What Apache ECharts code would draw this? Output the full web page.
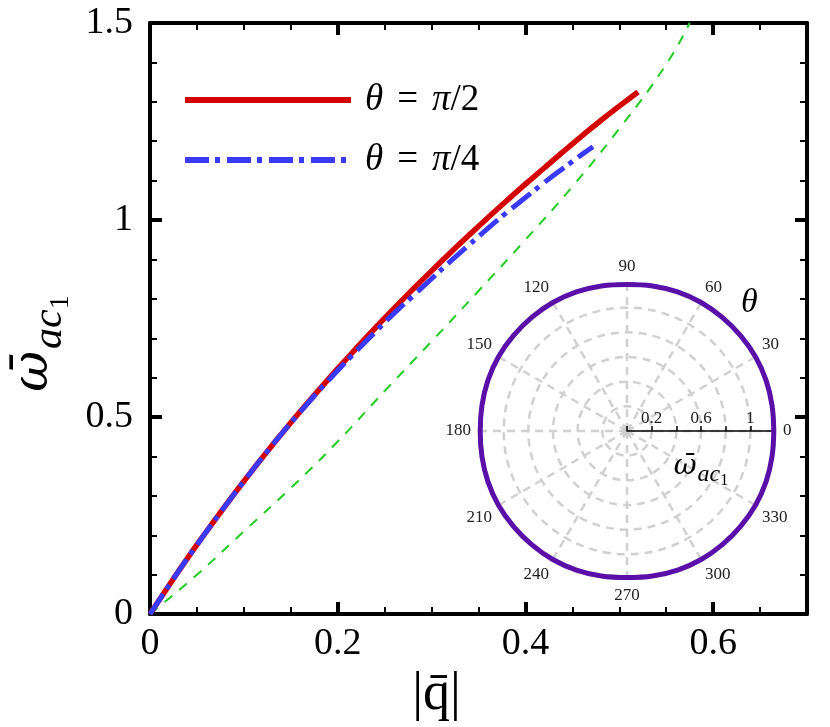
<!DOCTYPE html>
<html>
<head>
<meta charset="utf-8">
<script src="https://cdn.jsdelivr.net/npm/echarts@6/dist/echarts.min.js"></script>
<style>
  html, body { margin: 0; padding: 0; background: #fff; }
  #chart { width: 830px; height: 727px; }
</style>
</head>
<body>
<div id="chart"></div>
<script>
var FONT = 'Liberation Serif';

// theta = pi/2, [|q|, omega]
var redCurve = [[0, 0], [0.02, 0.072], [0.04, 0.142], [0.06, 0.209], [0.08, 0.274], [0.1, 0.337],
    [0.12, 0.398], [0.14, 0.457], [0.16, 0.514], [0.18, 0.569], [0.2, 0.623], [0.22, 0.675],
    [0.24, 0.726], [0.26, 0.776], [0.28, 0.824], [0.3, 0.871], [0.32, 0.917], [0.34, 0.962],
    [0.36, 1.006], [0.38, 1.049], [0.4, 1.091], [0.42, 1.132], [0.44, 1.173], [0.46, 1.213],
    [0.48, 1.252], [0.5, 1.289], [0.52, 1.325]];
// theta = pi/4
var blueCurve = [[0, 0], [0.02, 0.072], [0.04, 0.142], [0.06, 0.209], [0.08, 0.274], [0.1, 0.337],
    [0.12, 0.398], [0.14, 0.457], [0.16, 0.513], [0.18, 0.567], [0.2, 0.618], [0.22, 0.668],
    [0.24, 0.716], [0.26, 0.763], [0.28, 0.807], [0.3, 0.851], [0.32, 0.895], [0.34, 0.937],
    [0.36, 0.979], [0.38, 1.019], [0.4, 1.057], [0.42, 1.095], [0.44, 1.131], [0.46, 1.166],
    [0.472, 1.186]];
// green dashed reference
var greenCurve = [[0, 0], [0.05, 0.1], [0.1, 0.21], [0.15, 0.32], [0.2, 0.438], [0.25, 0.566],
    [0.3, 0.692], [0.35, 0.82], [0.4, 0.95], [0.45, 1.085], [0.5, 1.232], [0.55, 1.395], [0.575, 1.5]];

// inset: angle (deg, every 10) and omega radius
var polarAngles = [0, 10, 20, 30, 40, 50, 60, 70, 80, 90, 100, 110, 120, 130, 140, 150, 160, 170,
    180, 190, 200, 210, 220, 230, 240, 250, 260, 270, 280, 290, 300, 310, 320, 330, 340, 350, 360];
var polarRadius = [1.19, 1.194, 1.2, 1.203, 1.202, 1.202, 1.203, 1.2, 1.194,
    1.188, 1.194, 1.2, 1.203, 1.202, 1.202, 1.203, 1.2, 1.194,
    1.19, 1.194, 1.2, 1.203, 1.202, 1.202, 1.203, 1.2, 1.194,
    1.188, 1.194, 1.2, 1.203, 1.202, 1.202, 1.203, 1.2, 1.194, 1.19];

var xMajorTicks = [0, 0.2, 0.4, 0.6];
var yMajorTicks = [0, 0.5, 1, 1.5];
var legendNames = ['θ = π/2', 'θ = π/4'];

var polarData = polarAngles.map(function (a, i) { return [polarRadius[i], a]; });

var e = echarts.init(document.getElementById('chart'));

function xAxisDef(pos, interval, major) {
    return {
        type: 'value', position: pos, min: 0, max: 0.7, interval: interval,
        axisLine: {show: major, onZero: false, lineStyle: {color: '#000', width: 4}},
        axisTick: {show: true, inside: true, length: major ? 12 : 7,
            lineStyle: {color: '#000', width: major ? 4 : 2}},
        axisLabel: {show: major && pos === 'bottom', margin: 11, fontFamily: FONT, fontSize: 38, color: '#000',
            formatter: function (v) { return xMajorTicks.indexOf(Math.round(v * 10) / 10) >= 0 ? String(v) : ''; }},
        splitLine: {show: false}
    };
}

function yAxisDef(pos) {
    return {
        type: 'value', position: pos, min: 0, max: 1.5, interval: 0.5,
        axisLine: {show: true, onZero: false, lineStyle: {color: '#000', width: 4}},
        axisTick: {show: true, inside: true, length: 12, lineStyle: {color: '#000', width: 4}},
        minorTick: {show: true, splitNumber: 5, length: 7, lineStyle: {color: '#000', width: 2}},
        axisLabel: {show: pos === 'left', margin: 17, fontFamily: FONT, fontSize: 38, color: '#000',
            formatter: function (v) { return yMajorTicks.indexOf(v) >= 0 ? String(v) : ''; }},
        splitLine: {show: false}
    };
}

var xs = [xAxisDef('bottom', 0.2, true), xAxisDef('bottom', 0.05, false),
    xAxisDef('top', 0.2, true), xAxisDef('top', 0.05, false)];
xs[0].name = '|q̄|';
xs[0].nameLocation = 'middle';
xs[0].nameGap = 18;
xs[0].nameTextStyle = {fontFamily: FONT, fontSize: 54, color: '#000', padding: [0, 84, 0, 0]};

var ys = [yAxisDef('left'), yAxisDef('right')];
ys[0].name = '{w|ω̄}{s|ac}{n|1}';
ys[0].nameLocation = 'middle';
ys[0].nameGap = 60;
ys[0].nameRotate = 90;
ys[0].nameTextStyle = {
    color: '#000',
    padding: [0, 50, 0, 0],
    rich: {
        w: {fontFamily: 'DejaVu Serif', fontStyle: 'italic', fontSize: 50, color: '#000'},
        s: {fontFamily: FONT, fontStyle: 'italic', fontSize: 42, color: '#000', verticalAlign: 'bottom', padding: [0, 0, -12, 2]},
        n: {fontFamily: FONT, fontSize: 28, color: '#000', verticalAlign: 'bottom', padding: [0, 0, -16, 0]}
    }
};

// inset grid: radius 1.2 -> 148px; the curve uses a second, invisible polar with the same scale
var pxPerUnit = 148 / 1.2;

e.setOption({
    animation: false,
    backgroundColor: '#fff',
    grid: {left: 150, right: 23, top: 23, bottom: 92, show: false},
    xAxis: xs,
    yAxis: ys,
    polar: [
        {center: [627, 431], radius: 148},
        {center: [627, 431], radius: pxPerUnit * 1.3}
    ],
    angleAxis: [{
        polarIndex: 0,
        type: 'value', min: 0, max: 360, interval: 30, startAngle: 0, clockwise: false,
        axisLine: {show: false},
        axisTick: {show: false},
        axisLabel: {margin: 8, fontFamily: FONT, fontSize: 17, color: '#222',
            formatter: function (v) { return v === 360 ? '' : String(v); }},
        splitLine: {show: true, lineStyle: {color: '#d0d0d0', width: 2.5, type: [8, 6]}}
    }, {
        polarIndex: 1, show: false,
        type: 'value', min: 0, max: 360, startAngle: 0, clockwise: false
    }],
    radiusAxis: [{
        polarIndex: 0,
        type: 'value', min: 0, max: 1.2, interval: 0.2,
        axisLine: {show: true, lineStyle: {color: '#000', width: 1.5}},
        axisTick: {show: true, inside: true, length: 5, lineStyle: {color: '#000', width: 1.5}},
        axisLabel: {margin: 4, fontFamily: FONT, fontSize: 17, color: '#222',
            formatter: function (v) {
                var r = Math.round(v * 10) / 10;
                return (r === 0.2 || r === 0.6 || r === 1) ? String(r) : '';
            }},
        splitLine: {show: true, lineStyle: {color: '#d0d0d0', width: 2.5, type: [8, 6]}},
        name: '{w|ω̄}{s|ac}{n|1}',
        nameLocation: 'middle',
        nameGap: 22,
        nameTextStyle: {
            color: '#000',
            rich: {
                w: {fontFamily: 'DejaVu Serif', fontStyle: 'italic', fontSize: 28, color: '#000'},
                s: {fontFamily: FONT, fontStyle: 'italic', fontSize: 24, color: '#000', verticalAlign: 'bottom', padding: [0, 0, -6, 1]},
                n: {fontFamily: FONT, fontSize: 16, color: '#000', verticalAlign: 'bottom', padding: [0, 0, -8, 0]}
            }
        }
    }, {
        polarIndex: 1, show: false,
        type: 'value', min: 0, max: 1.3
    }],
    legend: {
        data: legendNames,
        orient: 'vertical',
        left: 182, top: 80, padding: 0,
        itemWidth: 166, itemHeight: 20, itemGap: 20,
        lineStyle: {width: 6},
        itemStyle: {opacity: 0},
        formatter: function (name) {
            return name === legendNames[0] ? '{t|θ}{e|=}{t|π}{n|/2}' : '{t|θ}{e|=}{t|π}{n|/4}';
        },
        textStyle: {
            lineHeight: 40,
            padding: [0, 0, 0, 9],
            rich: {
                t: {fontFamily: FONT, fontStyle: 'italic', fontSize: 37, color: '#000'},
                e: {fontFamily: FONT, fontSize: 37, color: '#000', padding: [0, 14, 0, 14]},
                n: {fontFamily: FONT, fontSize: 37, color: '#000'}
            }
        }
    },
    graphic: [{
        type: 'text', left: 741, top: 286,
        style: {text: 'θ', font: 'italic 34px "Liberation Serif"', fill: '#000'}
    }],
    series: [
        {
            name: 'green', type: 'line', xAxisIndex: 0, yAxisIndex: 0, data: greenCurve,
            smooth: true, symbol: 'none', z: 1,
            lineStyle: {color: '#22cc22', width: 2, type: [10, 9]}
        },
        {
            name: legendNames[0], type: 'line', xAxisIndex: 0, yAxisIndex: 0, data: redCurve,
            smooth: true, symbol: 'none', z: 2,
            itemStyle: {color: '#d40000'},
            lineStyle: {color: '#d40000', width: 5.5}
        },
        {
            name: legendNames[1], type: 'line', xAxisIndex: 0, yAxisIndex: 0, data: blueCurve,
            smooth: true, symbol: 'none', z: 3,
            itemStyle: {color: '#3a3aff'},
            lineStyle: {color: '#3a3aff', width: 5, type: [24, 6, 5, 7]}
        },
        {
            name: 'inset', type: 'line', coordinateSystem: 'polar', polarIndex: 1, data: polarData,
            smooth: 0.4, smoothMonotone: null, symbol: 'none', z: 4,
            lineStyle: {color: '#5a0fa8', width: 5}
        }
    ]
});
</script>
</body>
</html>
